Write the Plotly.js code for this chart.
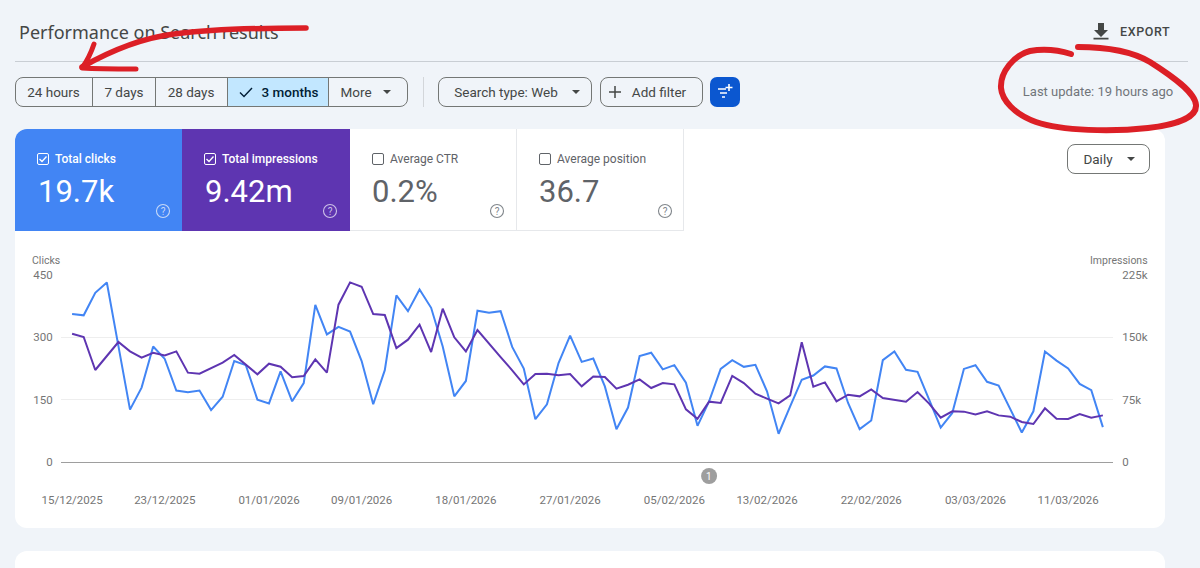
<!DOCTYPE html>
<html><head><meta charset="utf-8">
<script src="https://cdn.plot.ly/plotly-3.0.1.min.js"></script>
<style>
html,body{margin:0;padding:0;width:1200px;height:568px;overflow:hidden;background:#f0f4f9;font-family:Roboto,sans-serif;}
.abs{position:absolute;box-sizing:border-box;white-space:nowrap;}
.card{background:#fff;}
.btn{border:1px solid #747775;height:30px;top:77px;border-radius:8px;}
.t{font-size:13.5px;color:#444746;line-height:16px;transform:translate(-50%,-50%);}
.tile{top:129px;height:102px;border-right:1px solid #e6e8eb;border-bottom:1px solid #e6e8eb;}
.lab{font-size:12px;line-height:14px;top:152px;}
.num{font-size:31px;line-height:36px;top:174px;}
.cb{width:12px;height:12px;top:153px;border:1.2px solid #fff;border-radius:2px;}
</style></head><body>
<div class="abs card" style="left:15px;top:129px;width:1150px;height:399px;border-radius:12px"></div>
<div class="abs card" style="left:15px;top:551px;width:1150px;height:40px;border-radius:12px"></div>
<div class="abs" style="left:15px;top:61px;width:1173px;height:1px;background:#c9ced4"></div>

<div class="abs" style="left:19px;top:21px;font-size:18px;line-height:22px;color:#444746;font-family:'Noto Sans'">Performance on Search results</div>
<div class="abs" style="left:1120px;top:25px;font-size:12.5px;line-height:14px;letter-spacing:.6px;font-weight:500;color:#444746">EXPORT</div>
<svg class="abs" style="left:1092px;top:22px" width="18" height="18"><path d="M6 1h6v7h4l-7 7-7-7h4zM1.5 15.8h15v1.8h-15z" fill="#444746"/></svg>

<div class="abs btn" style="left:15px;width:393px"></div>
<div class="abs" style="left:226.5px;top:77px;width:102px;height:30px;background:#c2e7ff;border:1px solid #747775"></div>
<div class="abs" style="left:92px;top:77px;width:1px;height:30px;background:#747775"></div>
<div class="abs" style="left:155px;top:77px;width:1px;height:30px;background:#747775"></div>
<div class="abs t" style="left:53.5px;top:92px">24 hours</div>
<div class="abs t" style="left:124px;top:92px">7 days</div>
<div class="abs t" style="left:191px;top:92px">28 days</div>
<div class="abs t" style="left:290px;top:92px;color:#001d35;font-weight:500">3 months</div>
<svg class="abs" style="left:239px;top:86px" width="14" height="12"><path d="M1 6.5l4 4L13 2" fill="none" stroke="#001d35" stroke-width="1.4"/></svg>
<div class="abs t" style="left:356px;top:92px">More</div>
<svg class="abs" style="left:383px;top:90px" width="9" height="5"><path d="M0 0h8L4 4z" fill="#444746"/></svg>
<div class="abs" style="left:423px;top:77px;width:1px;height:30px;background:#d3d6da"></div>
<div class="abs btn" style="left:438px;width:154px"></div>
<div class="abs t" style="left:506px;top:92px">Search type: Web</div>
<svg class="abs" style="left:572px;top:90px" width="9" height="5"><path d="M0 0h8L4 4z" fill="#444746"/></svg>
<div class="abs btn" style="left:600px;width:103px"></div>
<div class="abs t" style="left:659px;top:92px">Add filter</div>
<svg class="abs" style="left:609px;top:86px" width="12" height="12"><path d="M6 0v12M0 6h12" stroke="#444746" stroke-width="1.5"/></svg>
<div class="abs" style="left:710px;top:77px;width:30px;height:30px;background:#0b57d0;border-radius:7px"></div>
<svg class="abs" style="left:716px;top:83px" width="18" height="18"><path d="M2 6h8M4 10h7M6 14h3" stroke="#fff" stroke-width="1.6" fill="none"/><path d="M13 1v7M9.5 4.5h7" stroke="#fff" stroke-width="1.6"/></svg>
<div class="abs t" style="left:1098px;top:92px;color:#70757a;font-size:13px">Last update: 19 hours ago</div>

<div class="abs" style="left:15px;top:129px;width:167.5px;height:102px;background:#4285f4;border-top-left-radius:12px"></div>
<div class="abs" style="left:182px;top:129px;width:167.5px;height:102px;background:#5e35b1"></div>
<div class="abs tile" style="left:349.5px;width:167px"></div>
<div class="abs tile" style="left:516.5px;width:167px"></div>

<div class="abs cb" style="left:37px"></div><svg class="abs" style="left:37px;top:153px" width="12" height="12"><path d="M2.5 6l2.5 2.5 4.5-5" stroke="#fff" stroke-width="1.3" fill="none"/></svg>
<div class="abs lab" style="left:55px;color:#fff;font-weight:500">Total clicks</div>
<div class="abs num" style="left:38px;color:#fff">19.7k</div>
<div class="abs cb" style="left:204px"></div><svg class="abs" style="left:204px;top:153px" width="12" height="12"><path d="M2.5 6l2.5 2.5 4.5-5" stroke="#fff" stroke-width="1.3" fill="none"/></svg>
<div class="abs lab" style="left:222px;color:#fff;font-weight:500">Total impressions</div>
<div class="abs num" style="left:205px;color:#fff">9.42m</div>
<div class="abs cb" style="left:372px;border-color:#5f6368"></div>
<div class="abs lab" style="left:390px;color:#5f6368">Average CTR</div>
<div class="abs num" style="left:372px;color:#5f6368">0.2%</div>
<div class="abs cb" style="left:539px;border-color:#5f6368"></div>
<div class="abs lab" style="left:557px;color:#5f6368">Average position</div>
<div class="abs num" style="left:539px;color:#5f6368">36.7</div>
<svg class="abs" style="left:155px;top:203px" width="16" height="16"><circle cx="8" cy="8" r="6.5" fill="none" stroke="#c7d9f8" stroke-width="1.1"/><text x="8" y="11.5" text-anchor="middle" font-size="10" fill="#c7d9f8" font-family="Roboto">?</text></svg>
<svg class="abs" style="left:322px;top:203px" width="16" height="16"><circle cx="8" cy="8" r="6.5" fill="none" stroke="#cdc0e8" stroke-width="1.1"/><text x="8" y="11.5" text-anchor="middle" font-size="10" fill="#cdc0e8" font-family="Roboto">?</text></svg>
<svg class="abs" style="left:489px;top:203px" width="16" height="16"><circle cx="8" cy="8" r="6.5" fill="none" stroke="#80868b" stroke-width="1.1"/><text x="8" y="11.5" text-anchor="middle" font-size="10" fill="#80868b" font-family="Roboto">?</text></svg>
<svg class="abs" style="left:657px;top:203px" width="16" height="16"><circle cx="8" cy="8" r="6.5" fill="none" stroke="#80868b" stroke-width="1.1"/><text x="8" y="11.5" text-anchor="middle" font-size="10" fill="#80868b" font-family="Roboto">?</text></svg>

<div class="abs btn" style="left:1067px;top:144px;width:83px;border-radius:8px"></div>
<div class="abs t" style="left:1098px;top:159px">Daily</div>
<svg class="abs" style="left:1127px;top:157px" width="9" height="5"><path d="M0 0h8L4 4z" fill="#444746"/></svg>

<div id="chart" class="abs" style="left:0;top:0;width:1200px;height:568px"></div>

<svg class="abs" style="left:0;top:0;z-index:5;pointer-events:none" width="1200" height="568">
<g fill="none" stroke="#dc1f26" stroke-linecap="round" stroke-linejoin="round">
<path d="M306 28C262 28 214 29 174 34C142 38 112 50 82 67" stroke-width="5.5"/>
<path d="M94 44C91 53 87 61 82 68C98 69 118 69 136 69" stroke-width="5"/>
<path d="M1078 47C1098 47 1128 49 1150 62C1172 76 1195 92 1196 105C1197 118 1174 125 1148 128C1112 132 1062 131 1036 122C1014 114 1002 100 1001 88C1000 72 1014 55 1030 51C1042 49 1058 50 1071 54" stroke-width="6"/>
</g></svg>

<script>
const dates = ["2025-12-15","2025-12-16","2025-12-17","2025-12-18","2025-12-19","2025-12-20","2025-12-21","2025-12-22","2025-12-23","2025-12-24","2025-12-25","2025-12-26","2025-12-27","2025-12-28","2025-12-29","2025-12-30","2025-12-31","2026-01-01","2026-01-02","2026-01-03","2026-01-04","2026-01-05","2026-01-06","2026-01-07","2026-01-08","2026-01-09","2026-01-10","2026-01-11","2026-01-12","2026-01-13","2026-01-14","2026-01-15","2026-01-16","2026-01-17","2026-01-18","2026-01-19","2026-01-20","2026-01-21","2026-01-22","2026-01-23","2026-01-24","2026-01-25","2026-01-26","2026-01-27","2026-01-28","2026-01-29","2026-01-30","2026-01-31","2026-02-01","2026-02-02","2026-02-03","2026-02-04","2026-02-05","2026-02-06","2026-02-07","2026-02-08","2026-02-09","2026-02-10","2026-02-11","2026-02-12","2026-02-13","2026-02-14","2026-02-15","2026-02-16","2026-02-17","2026-02-18","2026-02-19","2026-02-20","2026-02-21","2026-02-22","2026-02-23","2026-02-24","2026-02-25","2026-02-26","2026-02-27","2026-02-28","2026-03-01","2026-03-02","2026-03-03","2026-03-04","2026-03-05","2026-03-06","2026-03-07","2026-03-08","2026-03-09","2026-03-10","2026-03-11","2026-03-12","2026-03-13","2026-03-14"];
const clicks = [356,353,407,432,279,126,179,278,248,172,168,172,125,157,243,233,150,141,218,146,190,378,307,325,314,243,139,221,401,363,415,371,278,158,195,364,359,363,277,225,103,139,238,304,241,249,182,79,131,255,263,223,233,191,87,146,224,245,229,234,170,68,134,198,208,230,225,142,79,100,245,266,222,217,150,83,118,224,233,193,184,126,71,122,266,244,225,188,173,84];
const impressions = [154400,150400,110700,127100,144400,133100,125500,131500,128300,133100,107500,106300,112700,119500,128700,116700,105500,118300,114700,101900,103500,123500,107500,189300,216100,210900,178000,176800,137100,147200,165200,132300,184500,150000,133100,158800,142000,126300,110300,93400,105900,106300,104300,105900,91000,103000,102300,88200,93000,99400,89000,95000,93400,63400,52100,72600,71000,103500,95000,82200,76200,70600,80200,144000,90600,95800,73000,81000,79000,87400,77000,75000,72600,84200,70200,53300,61000,60600,57300,61000,56100,54500,48100,45700,64600,52100,51700,57700,53300,56100];
const xTickVals = ["2025-12-15","2025-12-23","2026-01-01","2026-01-09","2026-01-18","2026-01-27","2026-02-05","2026-02-13","2026-02-22","2026-03-03","2026-03-11"];
const xTickText = ["15/12/2025","23/12/2025","01/01/2026","09/01/2026","18/01/2026","27/01/2026","05/02/2026","13/02/2026","22/02/2026","03/03/2026","11/03/2026"];
const clickTicks = [0,150,300,450];
const clickTickText = ["0","150","300","450"];
const imprTicks = [0,75000,150000,225000];
const imprTickText = ["0","75k","150k","225k"];
const noteDate = "2026-02-08";

const tickFont = {family:"Roboto, sans-serif", size:11.5, color:"#757575"};
const traces = [
 {x:dates, y:clicks, type:"scatter", mode:"lines", name:"Clicks", line:{color:"#4285f4", width:2}, yaxis:"y"},
 {x:dates, y:impressions, type:"scatter", mode:"lines", name:"Impressions", line:{color:"#5e35b1", width:2}, yaxis:"y2"}
];
const layout = {
 width:1200, height:568, showlegend:false,
 paper_bgcolor:"rgba(0,0,0,0)", plot_bgcolor:"rgba(0,0,0,0)",
 margin:{l:60.7, r:87.3, t:275.3, b:105.7, pad:0},
 font:tickFont,
 xaxis:{type:"date", range:["2025-12-14 01:00","2026-03-14 21:00"], tickmode:"array", tickvals:xTickVals, ticktext:xTickText, tickangle:0,
   showgrid:false, zeroline:false, showline:true, linecolor:"#9e9e9e", linewidth:1, ticks:"outside", ticklen:27, tickcolor:"rgba(0,0,0,0)", tickfont:tickFont, fixedrange:true},
 yaxis:{range:[0,450], tickmode:"array", tickvals:clickTicks, ticktext:clickTickText, showgrid:true, gridcolor:"#eeeeee", gridwidth:1,
   zeroline:false, showline:false, ticks:"outside", ticklen:5, tickcolor:"rgba(0,0,0,0)", tickfont:tickFont, fixedrange:true},
 yaxis2:{range:[0,225000], overlaying:"y", side:"right", tickmode:"array", tickvals:imprTicks, ticktext:imprTickText, showgrid:false,
   zeroline:false, showline:false, ticks:"outside", ticklen:6, tickcolor:"rgba(0,0,0,0)", tickfont:tickFont, fixedrange:true},
 shapes:[{type:"circle", xref:"x", yref:"paper", xsizemode:"pixel", ysizemode:"pixel", xanchor:noteDate, yanchor:0, x0:-8, x1:8, y0:-22, y1:-6, fillcolor:"#9e9e9e", line:{width:0}}],
 annotations:[
  {xref:"paper", yref:"paper", x:0, y:1, xshift:-31, yshift:15, xanchor:"left", yanchor:"middle", text:"Clicks", showarrow:false, font:{family:"Roboto, sans-serif", size:10.5, color:"#757575"}},
  {xref:"paper", yref:"paper", x:1, y:1, xshift:37, yshift:15, xanchor:"right", yanchor:"middle", text:"Impressions", showarrow:false, font:{family:"Roboto, sans-serif", size:10.5, color:"#757575"}},
  {xref:"x", yref:"paper", x:noteDate, y:0, yshift:-14, xanchor:"center", yanchor:"middle", text:"1", showarrow:false, font:{family:"Roboto, sans-serif", size:10, color:"#ffffff"}}
 ]
};
Plotly.newPlot("chart", traces, layout, {displayModeBar:false, staticPlot:true});
</script>
</body></html>
